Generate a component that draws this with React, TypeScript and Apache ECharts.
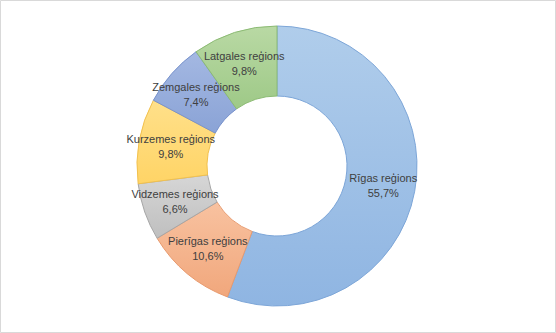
import React, { useEffect, useRef } from "react";
import * as echarts from "echarts";

const categories = [
  "Rīgas reģions",
  "Pierīgas reģions",
  "Vidzemes reģions",
  "Kurzemes reģions",
  "Zemgales reģions",
  "Latgales reģions",
];
const values = [55.7, 10.6, 6.6, 9.8, 7.4, 9.8];
const fillTop = ["#b0cdeb", "#f8c2a0", "#d6d6d6", "#ffe08a", "#a4b8e2", "#b9d9a4"];
const fillBottom = ["#8fb5e2", "#f1a77c", "#bfbfbf", "#ffd466", "#8aa3d6", "#9ec987"];
const borderColors = ["#7da6d8", "#e89a6e", "#a6a6a6", "#f2c14e", "#7892cc", "#8cbb74"];

export default function App() {
  const ref = useRef<HTMLDivElement>(null);
  useEffect(() => {
    document.body.style.margin = "0";
    const chart = echarts.init(ref.current!, null, { renderer: "svg" });
    chart.setOption({
      animation: false,
      backgroundColor: "#ffffff",
      graphic: [
        {
          type: "rect",
          shape: { x: 0.5, y: 0.5, width: 555, height: 332 },
          style: { fill: "none", stroke: "#d9d9d9", lineWidth: 1 },
          silent: true,
        },
      ],
      series: [
        {
          type: "pie",
          center: [277, 166],
          radius: [70, 140],
          startAngle: 90,
          clockwise: true,
          avoidLabelOverlap: false,
          label: {
            show: true,
            position: "inside",
            color: "#404040",
            fontFamily: "Liberation Sans, sans-serif",
            fontSize: 11,
            lineHeight: 15,
            formatter: (p: any) =>
              p.name + "\n" + p.value.toFixed(1).replace(".", ",") + "%",
          },
          labelLine: { show: false },
          data: categories.map((c, i) => ({
            name: c,
            value: values[i],
            itemStyle: {
              color: new echarts.graphic.LinearGradient(0, 0, 0, 1, [
                { offset: 0, color: fillTop[i] },
                { offset: 1, color: fillBottom[i] },
              ]),
              borderColor: borderColors[i],
              borderWidth: 1,
            },
          })),
        },
      ],
    });
    return () => chart.dispose();
  }, []);
  return <div ref={ref} style={{ width: 556, height: 333 }} />;
}
